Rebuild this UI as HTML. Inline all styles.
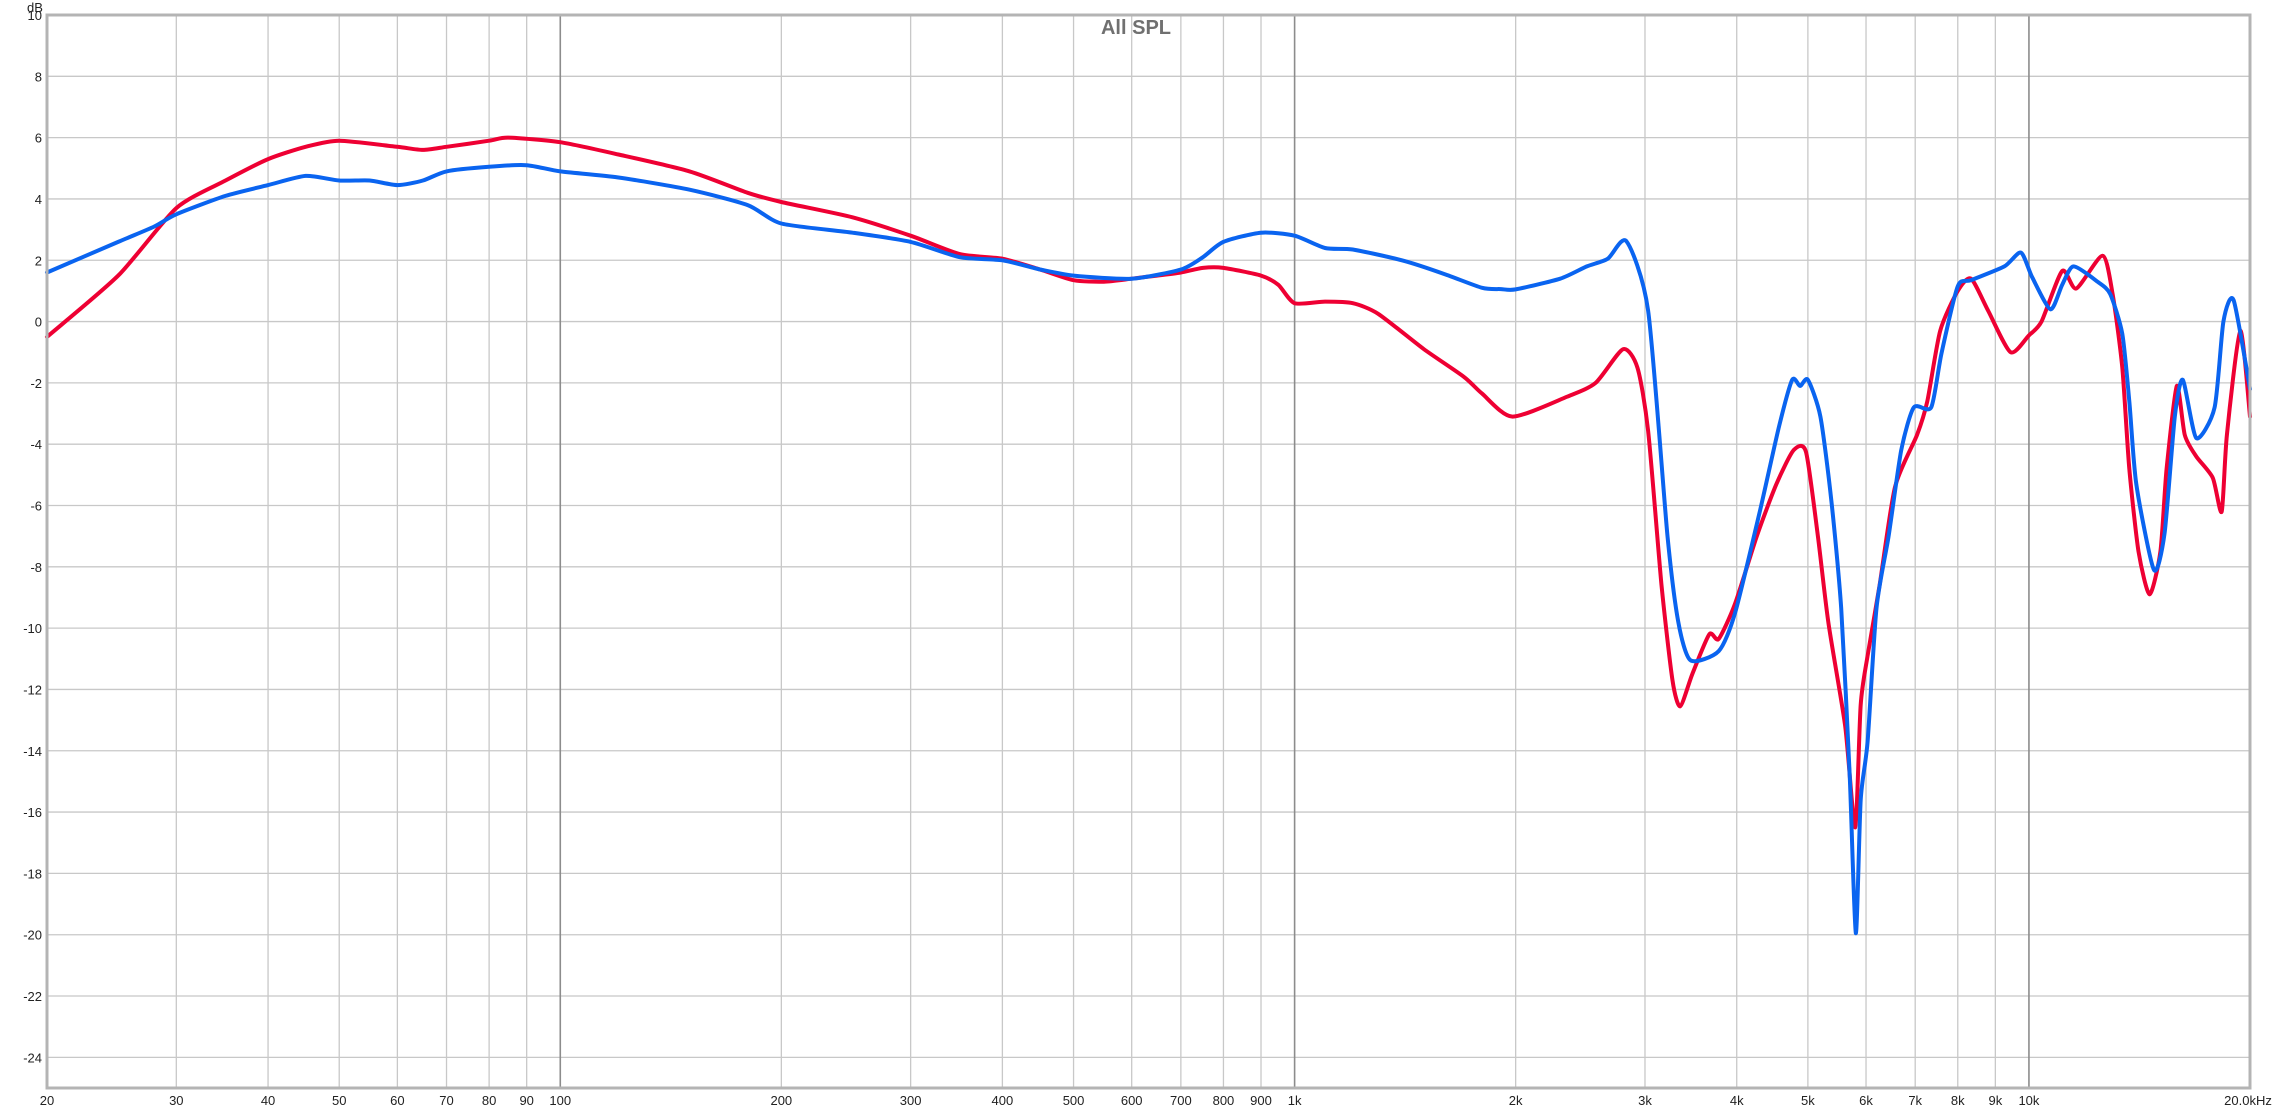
<!DOCTYPE html>
<html><head><meta charset="utf-8"><style>
html,body{margin:0;padding:0;background:#fff;}
svg{display:block;font-family:"Liberation Sans",Arial,sans-serif;}
</style></head><body>
<svg id="chart" width="2273" height="1109" viewBox="0 0 2273 1109">
<g id="grid"></g>
<g id="series"></g>
<rect x="47" y="15" width="2203" height="1073" fill="none" stroke="#b4b4b4" stroke-width="3"/>
<text x="1136" y="34" text-anchor="middle" font-size="20" font-weight="bold" fill="#707070">All SPL</text>
<text x="27" y="12" font-size="13" fill="#222">dB</text>
<g id="labels"></g>
</svg>
<script>
const yTicks=[10,8,6,4,2,0,-2,-4,-6,-8,-10,-12,-14,-16,-18,-20,-22,-24];
const xTicks=[20,30,40,50,60,70,80,90,100,200,300,400,500,600,700,800,900,1000,2000,3000,4000,5000,6000,7000,8000,9000,10000,20000];
const xTickLabels=["20","30","40","50","60","70","80","90","100","200","300","400","500","600","700","800","900","1k","2k","3k","4k","5k","6k","7k","8k","9k","10k","20.0kHz"];
const redFreq=[20,25,30,35,40,45,50,60,65,70,80,85,100,120,150,180,200,250,300,350,400,450,500,550,600,650,700,750,800,900,950,1000,1100,1200,1300,1500,1700,1800,1980,2350,2570,2800,2930,3030,3160,3270,3350,3480,3670,3780,3980,4260,4530,4780,4970,5160,5330,5620,5800,5900,6030,6260,6570,7040,7270,7570,8000,8340,8800,9440,10000,10400,11100,11600,12600,13000,13400,13700,14100,14600,15100,15400,15900,16300,16900,17800,18300,18600,19400,20000];
const redDb=[-0.5,1.5,3.7,4.6,5.3,5.7,5.9,5.7,5.6,5.7,5.9,6.0,5.85,5.45,4.9,4.2,3.9,3.4,2.8,2.2,2.05,1.7,1.35,1.3,1.4,1.5,1.6,1.75,1.75,1.5,1.2,0.6,0.65,0.6,0.25,-0.9,-1.8,-2.35,-3.1,-2.45,-2.0,-0.9,-1.5,-3.56,-8.6,-11.7,-12.55,-11.5,-10.2,-10.35,-9.2,-7.0,-5.3,-4.2,-4.25,-7.0,-9.8,-13.2,-16.5,-12.5,-10.9,-8.6,-5.4,-3.7,-2.6,-0.3,1.0,1.4,0.35,-1.0,-0.45,0.0,1.65,1.08,2.15,0.9,-1.5,-4.8,-7.5,-8.9,-7.5,-4.8,-2.1,-3.7,-4.4,-5.1,-6.2,-3.7,-0.3,-3.1];
const blueFreq=[20,25,28,30,35,40,45,50,55,60,65,70,80,90,100,120,150,180,200,250,300,350,400,450,500,600,700,750,800,900,1000,1100,1200,1400,1600,1800,1910,2000,2300,2500,2670,2830,3030,3220,3330,3460,3780,3980,4300,4570,4760,4880,5000,5200,5380,5550,5700,5810,5900,6030,6200,6440,6700,6970,7360,7600,8000,8340,9260,9750,10100,10700,11100,11500,12400,12900,13400,13700,14000,14800,15300,15800,16200,16900,17900,18400,19000,20000];
const blueDb=[1.6,2.6,3.1,3.5,4.1,4.45,4.75,4.6,4.6,4.45,4.6,4.9,5.05,5.1,4.9,4.7,4.3,3.8,3.2,2.9,2.6,2.1,2.0,1.7,1.5,1.4,1.7,2.1,2.6,2.9,2.8,2.4,2.35,2.0,1.55,1.1,1.06,1.05,1.4,1.8,2.05,2.62,0.36,-7.0,-9.8,-11.05,-10.75,-9.5,-6.2,-3.4,-1.9,-2.1,-1.9,-3.1,-5.8,-9.35,-14.8,-19.95,-15.6,-13.7,-9.35,-7.0,-4.2,-2.8,-2.8,-1.05,1.15,1.35,1.8,2.25,1.45,0.4,1.2,1.8,1.3,0.9,-0.4,-2.6,-5.3,-8.1,-6.9,-3.1,-1.9,-3.8,-2.8,0.0,0.7,-2.2];

const L=47,R=2250,T=15,B=1088,yMax=10,yMin=-25,fMin=20,fMax=20000;
function xs(f){return L+(Math.log10(f/fMin)/Math.log10(fMax/fMin))*(R-L);}
function ys(v){return T+(yMax-v)/(yMax-yMin)*(B-T);}
const NS="http://www.w3.org/2000/svg";
const grid=document.getElementById('grid'),labels=document.getElementById('labels'),series=document.getElementById('series');
yTicks.forEach(function(v){
  const y=ys(v);
  const ln=document.createElementNS(NS,'line');
  ln.setAttribute('x1',L);ln.setAttribute('x2',R);ln.setAttribute('y1',y);ln.setAttribute('y2',y);
  ln.setAttribute('stroke','#c8c8c8');ln.setAttribute('stroke-width','1.3');
  
  
  grid.appendChild(ln);
  const t=document.createElementNS(NS,'text');
  t.setAttribute('x',42);t.setAttribute('y',y+5);t.setAttribute('text-anchor','end');t.setAttribute('font-size','13');t.setAttribute('fill','#222');
  t.textContent=String(v);
  
  
  labels.appendChild(t);
});
xTicks.forEach(function(f,i){
  const x=xs(f);
  const major=(f===100||f===1000||f===10000);
  const ln=document.createElementNS(NS,'line');
  ln.setAttribute('x1',x);ln.setAttribute('x2',x);ln.setAttribute('y1',T);ln.setAttribute('y2',B);
  ln.setAttribute('stroke',major?'#8c8c8c':'#c8c8c8');ln.setAttribute('stroke-width',major?'1.6':'1.3');
  
  
  grid.appendChild(ln);
  const t=document.createElementNS(NS,'text');
  const last=i===xTicks.length-1;
  t.setAttribute('x',last?2248:x);t.setAttribute('y',1105);t.setAttribute('text-anchor','middle');t.setAttribute('font-size','13');t.setAttribute('fill','#222');
  t.textContent=xTickLabels[i];
  
  
  labels.appendChild(t);
});
function drawLine(fr,db,color,name){
  const P=fr.map(function(f,i){return [xs(f),ys(db[i])];});
  const k=0.7/6;
  let d='M'+P[0][0].toFixed(1)+','+P[0][1].toFixed(1);
  for(let i=0;i<P.length-1;i++){
    const p0=P[Math.max(0,i-1)],p1=P[i],p2=P[i+1],p3=P[Math.min(P.length-1,i+2)];
    const c1x=p1[0]+(p2[0]-p0[0])*k,c1y=p1[1]+(p2[1]-p0[1])*k;
    const c2x=p2[0]-(p3[0]-p1[0])*k,c2y=p2[1]-(p3[1]-p1[1])*k;
    d+='C'+c1x.toFixed(1)+','+c1y.toFixed(1)+' '+c2x.toFixed(1)+','+c2y.toFixed(1)+' '+p2[0].toFixed(1)+','+p2[1].toFixed(1);
  }
  const p=document.createElementNS(NS,'path');
  p.setAttribute('d',d);p.setAttribute('fill','none');p.setAttribute('stroke',color);
  p.setAttribute('stroke-width','4');p.setAttribute('stroke-linejoin','round');p.setAttribute('stroke-linecap','round');
  
  
  series.appendChild(p);
}
drawLine(redFreq,redDb,'#ee0033','red-channel-line');
drawLine(blueFreq,blueDb,'#0a64f0','blue-channel-line');
</script>
</body></html>
